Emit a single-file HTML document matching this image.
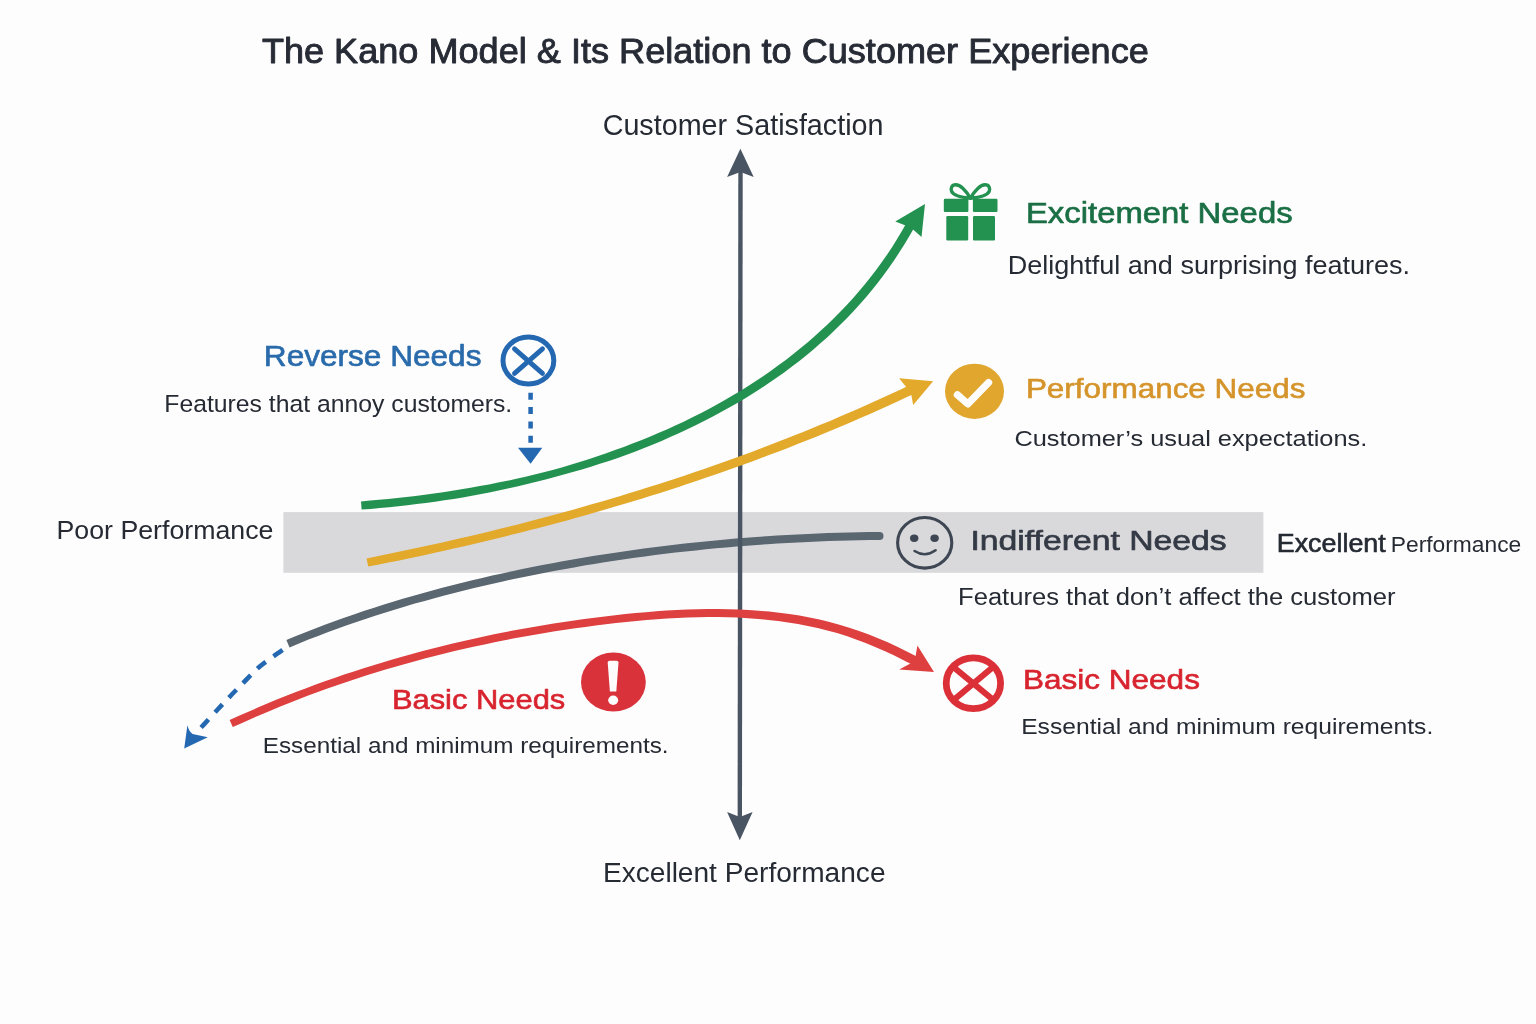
<!DOCTYPE html>
<html lang="en">
<head>
<meta charset="utf-8">
<title>The Kano Model &amp; Its Relation to Customer Experience</title>
<style>
html,body{margin:0;padding:0;background:#fdfdfd;}
body{width:1536px;height:1024px;overflow:hidden;}
svg{display:block;}
text{font-family:"Liberation Sans","DejaVu Sans",sans-serif;}
</style>
</head>
<body>
<svg width="1536" height="1024" viewBox="0 0 1536 1024">
<rect width="1536" height="1024" fill="#fdfdfd"/>

<!-- indifferent band -->
<rect x="283.4" y="512.1" width="980" height="60.7" fill="#d9d9dc"/>

<!-- grey curve (indifferent) -->
<path d="M289.5 647.4 L299.0 643.5 L308.5 639.6 L318.1 635.9 L327.6 632.3 L337.2 628.8 L346.9 625.3 L356.5 622.0 L366.2 618.7 L375.9 615.5 L385.6 612.4 L395.3 609.4 L405.1 606.5 L414.9 603.6 L424.7 600.9 L434.5 598.2 L444.4 595.5 L454.3 593.0 L464.1 590.5 L474.1 588.1 L484.0 585.7 L493.9 583.4 L503.9 581.2 L513.9 579.0 L523.9 576.9 L533.9 574.9 L543.9 572.9 L554.0 571.0 L564.0 569.2 L574.1 567.4 L584.2 565.6 L594.3 564.0 L604.4 562.3 L614.5 560.8 L624.6 559.3 L634.8 557.8 L644.9 556.5 L655.1 555.1 L665.2 553.8 L675.4 552.6 L685.6 551.5 L695.8 550.4 L706.0 549.3 L716.1 548.3 L726.3 547.4 L736.6 546.5 L746.8 545.7 L757.0 544.9 L767.2 544.2 L777.4 543.5 L787.6 542.9 L797.8 542.4 L808.0 541.9 L818.3 541.5 L828.5 541.1 L838.7 540.8 L848.9 540.5 L859.1 540.3 L869.3 540.1 L879.5 540.0 L879.5 532.0 L869.2 532.1 L859.0 532.3 L848.7 532.5 L838.5 532.8 L828.2 533.1 L817.9 533.5 L807.7 533.9 L797.4 534.4 L787.2 535.0 L776.9 535.6 L766.6 536.2 L756.4 536.9 L746.1 537.7 L735.9 538.5 L725.6 539.4 L715.4 540.4 L705.2 541.4 L694.9 542.4 L684.7 543.5 L674.5 544.7 L664.3 545.9 L654.0 547.2 L643.8 548.5 L633.7 549.9 L623.5 551.4 L613.3 552.9 L603.1 554.4 L593.0 556.1 L582.8 557.8 L572.7 559.5 L562.6 561.3 L552.5 563.2 L542.4 565.1 L532.3 567.1 L522.3 569.1 L512.2 571.2 L502.2 573.4 L492.2 575.6 L482.2 577.9 L472.2 580.3 L462.2 582.7 L452.3 585.2 L442.3 587.8 L432.4 590.4 L422.5 593.2 L412.7 596.0 L402.8 598.8 L393.0 601.8 L383.2 604.8 L373.4 607.9 L363.6 611.1 L353.9 614.4 L344.2 617.8 L334.5 621.3 L324.8 624.8 L315.2 628.5 L305.6 632.2 L296.0 636.1 L286.4 640.0 Z" fill="#5a6670"/>
<circle cx="879.5" cy="536" r="4" fill="#5a6670"/>

<!-- axis -->
<line x1="740.5" y1="170" x2="739.8" y2="818" stroke="#4a5563" stroke-width="4.4"/>
<path d="M740.4 148.8 L753.7 176.9 L740.4 172 L727.1 176.9 Z" fill="#4a5563"/>
<path d="M739.8 840.2 L752.6 811.9 L739.8 817 L727.1 811.9 Z" fill="#4a5563"/>

<!-- green curve (excitement) -->
<path d="M361.6 509.6 L370.8 508.9 L379.9 508.1 L389.1 507.2 L398.2 506.3 L407.4 505.2 L416.6 504.1 L425.9 502.9 L435.1 501.7 L444.3 500.3 L453.6 498.9 L462.8 497.4 L472.0 495.8 L481.3 494.0 L490.5 492.2 L499.7 490.3 L508.9 488.3 L518.1 486.2 L527.3 484.0 L536.4 481.8 L545.6 479.5 L554.7 477.1 L563.8 474.6 L572.8 472.0 L581.9 469.4 L590.9 466.7 L599.9 463.8 L608.9 460.9 L617.8 457.9 L626.7 454.7 L635.5 451.4 L644.2 448.0 L653.0 444.5 L661.6 440.9 L670.2 437.1 L678.8 433.3 L687.3 429.3 L695.7 425.2 L704.1 421.0 L712.4 416.8 L720.6 412.3 L728.8 407.8 L736.9 403.2 L744.9 398.4 L752.9 393.5 L760.7 388.5 L768.5 383.3 L776.2 378.1 L783.8 372.7 L791.3 367.1 L798.7 361.5 L805.9 355.7 L813.1 349.7 L820.1 343.6 L827.1 337.4 L833.9 331.1 L840.5 324.6 L847.1 317.9 L853.5 311.2 L859.8 304.2 L866.0 297.2 L872.0 290.0 L877.8 282.7 L883.5 275.2 L889.1 267.5 L894.5 259.8 L899.7 251.8 L904.8 243.8 L909.7 235.5 L914.5 227.2 L906.6 222.8 L901.9 231.0 L897.1 239.0 L892.2 246.9 L887.0 254.7 L881.7 262.3 L876.3 269.7 L870.7 277.1 L864.9 284.2 L859.0 291.3 L853.0 298.2 L846.8 304.9 L840.5 311.6 L834.1 318.1 L827.5 324.4 L820.9 330.6 L814.1 336.7 L807.2 342.7 L800.1 348.5 L793.0 354.2 L785.8 359.9 L778.4 365.3 L771.0 370.7 L763.5 375.9 L755.9 381.0 L748.2 386.0 L740.4 390.9 L732.5 395.6 L724.5 400.3 L716.5 404.8 L708.4 409.2 L700.2 413.5 L692.0 417.6 L683.7 421.7 L675.3 425.6 L666.8 429.4 L658.3 433.1 L649.8 436.7 L641.2 440.2 L632.5 443.6 L623.8 446.9 L615.0 450.1 L606.3 453.2 L597.4 456.3 L588.6 459.2 L579.7 462.1 L570.7 464.8 L561.7 467.4 L552.7 469.9 L543.7 472.2 L534.6 474.5 L525.5 476.7 L516.4 478.8 L507.3 480.8 L498.1 482.6 L489.0 484.4 L479.8 486.1 L470.6 487.7 L461.4 489.3 L452.3 490.8 L443.1 492.2 L433.9 493.5 L424.8 494.8 L415.6 495.9 L406.5 497.0 L397.3 498.0 L388.2 499.0 L379.1 499.8 L370.1 500.6 L361.0 501.4 Z" fill="#23914f"/>
<path d="M925 203.9 L895.3 221.6 L905.6 225.4 L913.4 229.8 L921.5 236.9 Z" fill="#23914f"/>

<!-- yellow curve (performance) -->
<path d="M368.2 566.6 L377.7 564.7 L387.2 562.8 L396.8 560.9 L406.3 558.9 L415.8 556.9 L425.3 554.9 L434.8 552.8 L444.2 550.7 L453.7 548.6 L463.2 546.4 L472.7 544.2 L482.1 542.0 L491.6 539.7 L501.0 537.4 L510.4 535.1 L519.9 532.7 L529.3 530.3 L538.7 527.9 L548.1 525.4 L557.5 522.9 L566.9 520.4 L576.3 517.8 L585.6 515.2 L595.0 512.5 L604.3 509.8 L613.6 507.1 L623.0 504.3 L632.3 501.5 L641.6 498.7 L650.9 495.8 L660.1 492.9 L669.4 489.9 L678.6 486.9 L687.9 483.8 L697.1 480.8 L706.3 477.6 L715.5 474.5 L724.7 471.3 L733.8 468.0 L743.0 464.7 L752.1 461.4 L761.2 458.0 L770.3 454.6 L779.4 451.2 L788.5 447.7 L797.5 444.1 L806.6 440.6 L815.6 436.9 L824.6 433.3 L833.6 429.6 L842.6 425.8 L851.5 422.0 L860.4 418.1 L869.4 414.2 L878.2 410.3 L887.1 406.3 L895.9 402.2 L904.8 398.1 L913.6 393.9 L909.4 385.3 L900.7 389.4 L891.9 393.5 L883.1 397.5 L874.3 401.5 L865.5 405.5 L856.6 409.4 L847.7 413.3 L838.9 417.1 L830.0 420.9 L821.0 424.6 L812.1 428.3 L803.1 431.9 L794.1 435.5 L785.1 439.1 L776.1 442.6 L767.1 446.1 L758.0 449.5 L749.0 452.9 L739.9 456.3 L730.8 459.5 L721.7 462.8 L712.5 466.0 L703.4 469.2 L694.2 472.3 L685.1 475.4 L675.9 478.4 L666.7 481.4 L657.4 484.4 L648.2 487.3 L639.0 490.2 L629.7 493.1 L620.4 495.9 L611.2 498.7 L601.9 501.4 L592.6 504.1 L583.2 506.8 L573.9 509.4 L564.6 512.0 L555.2 514.5 L545.9 517.0 L536.5 519.5 L527.1 522.0 L517.7 524.4 L508.4 526.7 L499.0 529.1 L489.5 531.4 L480.1 533.7 L470.7 535.9 L461.3 538.1 L451.8 540.3 L442.4 542.4 L432.9 544.5 L423.5 546.6 L414.0 548.6 L404.5 550.6 L395.0 552.6 L385.6 554.6 L376.1 556.5 L366.6 558.4 Z" fill="#e3a92b"/>
<path d="M933.1 381.3 L899.1 378.3 L906.2 387.1 L911.3 394.9 L913.2 405.1 Z" fill="#e3a92b"/>

<!-- red curve (basic) -->
<path d="M232.8 727.1 L242.1 722.9 L251.5 718.7 L260.8 714.7 L270.3 710.7 L279.7 706.8 L289.2 703.0 L298.7 699.3 L308.2 695.6 L317.8 692.1 L327.4 688.6 L337.0 685.3 L346.6 682.0 L356.3 678.8 L366.0 675.6 L375.8 672.6 L385.5 669.6 L395.3 666.7 L405.1 663.9 L415.0 661.2 L424.8 658.6 L434.7 656.0 L444.6 653.5 L454.5 651.1 L464.5 648.8 L474.5 646.5 L484.5 644.4 L494.5 642.3 L504.5 640.3 L514.5 638.3 L524.6 636.5 L534.7 634.7 L544.8 633.0 L554.9 631.3 L565.1 629.8 L575.2 628.3 L585.4 626.9 L595.6 625.5 L605.8 624.3 L616.0 623.1 L626.2 621.9 L636.4 620.9 L646.6 620.0 L656.8 619.2 L667.0 618.5 L677.2 617.9 L687.4 617.5 L697.6 617.2 L707.8 617.0 L717.9 617.1 L728.0 617.3 L738.1 617.6 L748.2 618.2 L758.2 618.9 L768.2 619.9 L778.2 621.0 L788.1 622.4 L798.0 624.0 L807.8 625.9 L817.6 628.0 L827.3 630.4 L837.0 633.1 L846.6 636.1 L856.1 639.4 L865.6 643.0 L875.1 646.9 L884.5 651.0 L893.8 655.3 L903.1 659.9 L912.4 664.7 L916.7 656.6 L907.3 651.7 L897.8 647.0 L888.3 642.6 L878.6 638.4 L868.9 634.5 L859.1 631.0 L849.3 627.7 L839.4 624.7 L829.5 622.0 L819.5 619.6 L809.5 617.4 L799.4 615.6 L789.3 614.0 L779.2 612.7 L769.1 611.6 L758.9 610.7 L748.7 610.0 L738.5 609.5 L728.2 609.2 L718.0 609.1 L707.7 609.1 L697.4 609.3 L687.1 609.6 L676.8 610.0 L666.5 610.6 L656.2 611.3 L645.9 612.2 L635.6 613.1 L625.3 614.1 L615.1 615.2 L604.8 616.4 L594.6 617.7 L584.3 619.1 L574.1 620.5 L563.9 622.0 L553.7 623.6 L543.5 625.2 L533.4 627.0 L523.2 628.8 L513.1 630.6 L503.0 632.6 L492.9 634.6 L482.8 636.7 L472.8 638.9 L462.7 641.2 L452.7 643.5 L442.7 646.0 L432.8 648.5 L422.8 651.0 L412.9 653.7 L403.0 656.4 L393.2 659.3 L383.3 662.2 L373.5 665.2 L363.7 668.2 L353.9 671.4 L344.2 674.6 L334.5 677.9 L324.8 681.3 L315.1 684.8 L305.5 688.4 L295.9 692.1 L286.3 695.8 L276.8 699.6 L267.3 703.6 L257.8 707.6 L248.4 711.7 L239.0 715.8 L229.6 720.1 Z" fill="#de3f3f"/>
<path d="M934 672 L917.4 645.5 L915.6 656.2 L910.9 663.2 L899.2 669.5 Z" fill="#de3f3f"/>

<!-- blue dashed down arrow -->
<line x1="530.6" y1="392.8" x2="530.6" y2="443.5" stroke="#2568b2" stroke-width="4.5" stroke-dasharray="7 7.3"/>
<path d="M518 447.8 L542.3 447.8 L530.6 463.75 Z" fill="#2568b2"/>

<!-- blue dashed curve -->
<path d="M284.5 648.5 C283.3 649.4 281.2 650.8 277.2 653.7 C273.2 656.6 265.6 661.6 260.4 666.0 C255.2 670.4 250.8 675.2 246.0 680.0 C241.2 684.8 236.5 689.7 231.8 694.5 C227.2 699.3 222.7 704.0 218.1 709.0 C213.5 714.0 207.7 720.4 204.0 724.4 C200.3 728.4 197.3 731.6 196.0 733.0" fill="none" stroke="#2568b2" stroke-width="4.6" stroke-dasharray="10.9 9.4" stroke-dashoffset="-2.6"/>
<path d="M184.2 748.6 L187.4 725.3 Q189 731.8 192.6 733.9 L207.8 737.2 Z" fill="#2568b2"/>

<!-- blue X circle -->
<ellipse cx="528.4" cy="360.5" rx="25.4" ry="23.4" fill="none" stroke="#2568b2" stroke-width="5"/>
<path d="M514.5 348.8 L542.5 373.3 M542.5 348.8 L514.5 373.3" stroke="#2568b2" stroke-width="4.9" stroke-linecap="round" fill="none"/>

<!-- gift -->
<g fill="#23914f">
<rect x="943.8" y="198.8" width="24.6" height="13.2" rx="1.2"/>
<rect x="972.9" y="198.8" width="24.6" height="13.2" rx="1.2"/>
<rect x="946.3" y="216" width="21.9" height="24.5" rx="1.2"/>
<rect x="973" y="216" width="22" height="24.5" rx="1.2"/>
</g>
<path d="M970.4 198.3 C 966 190 960 184.7 955.8 184.7 C 951.6 184.7 950.4 188.4 951.6 191.4 C 953.2 195.4 961 197.4 970.4 198.3 C 974.8 190 980.8 184.7 985 184.7 C 989.2 184.7 990.4 188.4 989.2 191.4 C 987.6 195.4 979.8 197.4 970.4 198.3 Z" fill="none" stroke="#23914f" stroke-width="3.4" stroke-linejoin="round"/>

<!-- yellow check -->
<ellipse cx="974.5" cy="391.3" rx="29.5" ry="27.6" fill="#e0a62e"/>
<path d="M957.4 394.8 L967.8 403.9 L988.6 382.6" fill="none" stroke="#fdfdfd" stroke-width="7.2" stroke-linecap="round" stroke-linejoin="round"/>

<!-- smiley -->
<ellipse cx="924.7" cy="542.8" rx="27.1" ry="25.3" fill="none" stroke="#3d4652" stroke-width="3.1"/>
<ellipse cx="914.2" cy="538.3" rx="4.2" ry="3.7" fill="#3d4652"/>
<ellipse cx="934.6" cy="538.2" rx="4.2" ry="3.7" fill="#3d4652"/>
<path d="M914.6 551 Q 925 557.8 935.6 550.3" fill="none" stroke="#3d4652" stroke-width="2.6" stroke-linecap="round"/>

<!-- red exclamation -->
<ellipse cx="613.4" cy="682.1" rx="32.4" ry="29.5" fill="#d9323b"/>
<path d="M607.7 662.6 Q607.8 660.8 609.6 660.7 L616.6 660.7 Q618.4 660.8 618.5 662.6 L616.3 691.6 L609.9 691.6 Z" fill="#fdfdfd"/>
<ellipse cx="613.2" cy="700.2" rx="5" ry="4.7" fill="#fdfdfd"/>

<!-- red X circle -->
<ellipse cx="973.4" cy="683.3" rx="27.2" ry="25.4" fill="none" stroke="#dc3038" stroke-width="6.8"/>
<path d="M955 668.4 L992 698.9 M992 667.9 L955 698.9" stroke="#dc3038" stroke-width="6" fill="none"/>

<text x="261.9" y="62.65" font-size="35.6" textLength="886.9" lengthAdjust="spacingAndGlyphs" fill="#272b35" stroke="#272b35" stroke-width="0.91" stroke-linejoin="round">The Kano Model &amp; Its Relation to Customer Experience</text>
<text x="602.65" y="135.02" font-size="30.01" textLength="280.85" lengthAdjust="spacingAndGlyphs" fill="#252a33">Customer Satisfaction</text>
<text x="1025.95" y="222.9" font-size="29.42" textLength="266.65" lengthAdjust="spacingAndGlyphs" fill="#1b6f45" stroke="#1b6f45" stroke-width="0.65" stroke-linejoin="round">Excitement Needs</text>
<text x="1007.7" y="274.3" font-size="24.87" textLength="402.45" lengthAdjust="spacingAndGlyphs" fill="#252a33">Delightful and surprising features.</text>
<text x="1025.9" y="397.95" font-size="27.5" textLength="279.55" lengthAdjust="spacingAndGlyphs" fill="#d5942b" stroke="#d5942b" stroke-width="0.61" stroke-linejoin="round">Performance Needs</text>
<text x="1014.4" y="445.76" font-size="22.91" textLength="352.85" lengthAdjust="spacingAndGlyphs" fill="#252a33">Customer’s usual expectations.</text>
<text x="263.85" y="366.3" font-size="29.79" textLength="217.6" lengthAdjust="spacingAndGlyphs" fill="#2a6bab" stroke="#2a6bab" stroke-width="0.66" stroke-linejoin="round">Reverse Needs</text>
<text x="164.35" y="412.0" font-size="23.72" textLength="347.9" lengthAdjust="spacingAndGlyphs" fill="#252a33">Features that annoy customers.</text>
<text x="56.5" y="539.15" font-size="25.8" textLength="216.95" lengthAdjust="spacingAndGlyphs" fill="#252a33">Poor Performance</text>
<text x="970.4" y="549.8" font-size="28.34" textLength="256.35" lengthAdjust="spacingAndGlyphs" fill="#343a45" stroke="#343a45" stroke-width="0.67" stroke-linejoin="round">Indifferent Needs</text>
<text><tspan x="1276.75" y="552.25" font-size="24.86" textLength="109.0" lengthAdjust="spacingAndGlyphs" fill="#252a33" stroke="#252a33" stroke-width="0.59" stroke-linejoin="round">Excellent</tspan><tspan font-size="8" fill="none"> </tspan><tspan x="1390.8" y="552.3" font-size="22.44" textLength="130.5" lengthAdjust="spacingAndGlyphs" fill="#252a33">Performance</tspan></text>
<text x="958.05" y="604.7" font-size="23.51" textLength="437.45" lengthAdjust="spacingAndGlyphs" fill="#252a33">Features that don’t affect the customer</text>
<text x="391.9" y="709.1" font-size="27.37" textLength="173.4" lengthAdjust="spacingAndGlyphs" fill="#d8242f" stroke="#d8242f" stroke-width="0.60" stroke-linejoin="round">Basic Needs</text>
<text x="262.8" y="752.8" font-size="22.22" textLength="405.7" lengthAdjust="spacingAndGlyphs" fill="#252a33">Essential and minimum requirements.</text>
<text x="1023.05" y="688.9" font-size="28.05" textLength="176.85" lengthAdjust="spacingAndGlyphs" fill="#d8242f" stroke="#d8242f" stroke-width="0.62" stroke-linejoin="round">Basic Needs</text>
<text x="1021.2" y="733.65" font-size="22.3" textLength="412.05" lengthAdjust="spacingAndGlyphs" fill="#252a33">Essential and minimum requirements.</text>
<text x="602.95" y="882.3" font-size="26.94" textLength="282.6" lengthAdjust="spacingAndGlyphs" fill="#252a33">Excellent Performance</text>
</svg>
</body>
</html>
